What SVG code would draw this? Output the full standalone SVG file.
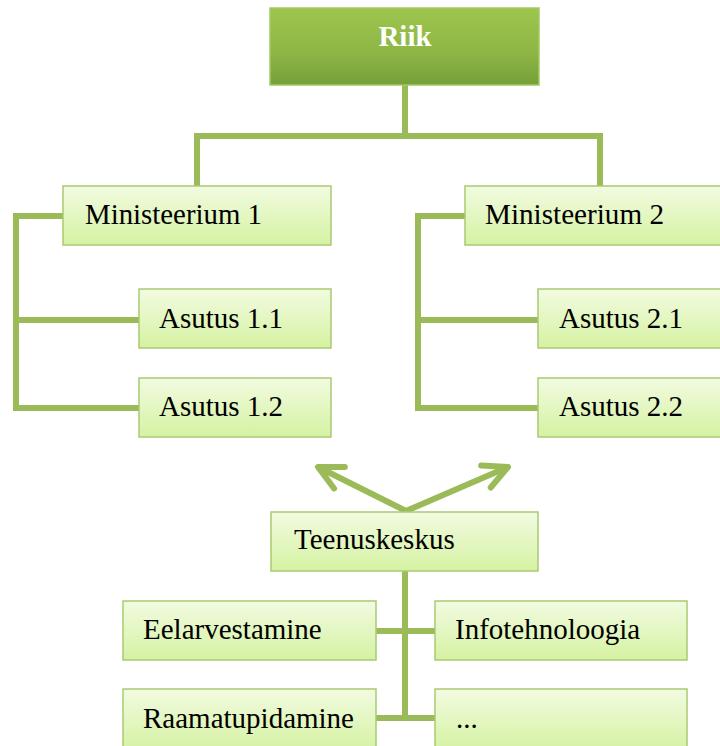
<svg xmlns="http://www.w3.org/2000/svg" width="720" height="746" viewBox="0 0 720 746">
  <defs>
    <linearGradient id="boxFill" x1="0" y1="0" x2="0" y2="1">
      <stop offset="0" stop-color="#f2fbe1"/>
      <stop offset="1" stop-color="#d5f2a2"/>
    </linearGradient>
    <linearGradient id="topFill" x1="0" y1="0" x2="0" y2="1">
      <stop offset="0" stop-color="#9ec64e"/>
      <stop offset="0.6" stop-color="#8cb545"/>
      <stop offset="1" stop-color="#76a039"/>
    </linearGradient>
    <marker id="chev" markerUnits="userSpaceOnUse" viewBox="-30 -16 34 32" refX="0" refY="0" markerWidth="34" markerHeight="32" orient="auto" overflow="visible">
      <path d="M -24 -12 L 0 0 L -24 12" fill="none" stroke="#9bbb59" stroke-width="6" stroke-linecap="round" stroke-linejoin="round"/>
    </marker>
  </defs>

  <!-- connectors -->
  <g id="connectors" fill="none" stroke="#9bbb59" stroke-width="6">
    <path d="M 405 85 V 136"/>
    <path d="M 197 186 V 136 H 600 V 186"/>
    <path d="M 63 216 H 16 V 408 H 139"/>
    <path d="M 16 320 H 139"/>
    <path d="M 465 216 H 418 V 408 H 538"/>
    <path d="M 418 320 H 538"/>
    <path d="M 406 511 L 318 467" marker-end="url(#chev)"/>
    <path d="M 406 511 L 508 467" marker-end="url(#chev)"/>
    <path d="M 405 571 V 718"/>
    <path d="M 376 631 H 435"/>
    <path d="M 376 718 H 435"/>
  </g>

  <g id="riik">
    <rect x="270" y="8" width="269" height="77" fill="url(#topFill)" stroke="#a4c963" stroke-width="1.5"/>
    <text x="405" y="46" text-anchor="middle" font-family="Liberation Serif" font-size="29" font-weight="bold" fill="#ffffff">Riik</text>
  </g>

  <!-- light nodes share fill, stroke and font -->
  <g fill="url(#boxFill)" stroke="#a9ca72" stroke-width="1.5">
    <rect id="box-m1" x="63" y="186" width="268" height="59"/>
    <rect id="box-m2" x="465" y="186" width="262" height="59"/>
    <rect id="box-a11" x="139" y="289" width="192" height="59"/>
    <rect id="box-a12" x="139" y="378" width="192" height="59"/>
    <rect id="box-a21" x="538" y="289" width="189" height="59"/>
    <rect id="box-a22" x="538" y="378" width="189" height="59"/>
    <rect id="box-tk" x="271" y="512" width="267" height="59"/>
    <rect id="box-ee" x="123" y="601" width="253" height="59"/>
    <rect id="box-it" x="435" y="601" width="252" height="59"/>
    <rect id="box-ra" x="123" y="689" width="253" height="62"/>
    <rect id="box-mu" x="435" y="689" width="252" height="62"/>
  </g>

  <g fill="#000000">
    <g id="ministeerium1"><text x="85" y="224" font-family="Liberation Serif" font-size="29" textLength="177" lengthAdjust="spacingAndGlyphs">Ministeerium 1</text></g>
    <g id="ministeerium2"><text x="485" y="224" font-family="Liberation Serif" font-size="29" textLength="179" lengthAdjust="spacingAndGlyphs">Ministeerium 2</text></g>
    <g id="asutus11"><text x="159" y="328" font-family="Liberation Serif" font-size="29">Asutus 1.1</text></g>
    <g id="asutus12"><text x="159" y="416" font-family="Liberation Serif" font-size="29">Asutus 1.2</text></g>
    <g id="asutus21"><text x="559" y="328" font-family="Liberation Serif" font-size="29">Asutus 2.1</text></g>
    <g id="asutus22"><text x="559" y="416" font-family="Liberation Serif" font-size="29">Asutus 2.2</text></g>
    <g id="teenuskeskus"><text x="294" y="549" font-family="Liberation Serif" font-size="29">Teenuskeskus</text></g>
    <g id="eelarvestamine"><text x="143" y="639" font-family="Liberation Serif" font-size="29">Eelarvestamine</text></g>
    <g id="infotehnologia"><text x="455" y="639" font-family="Liberation Serif" font-size="29">Infotehnoloogia</text></g>
    <g id="raamatupidamine"><text x="143" y="728" font-family="Liberation Serif" font-size="29">Raamatupidamine</text></g>
    <g id="muud"><text x="456" y="728" font-family="Liberation Serif" font-size="29">...</text></g>
  </g>
</svg>
